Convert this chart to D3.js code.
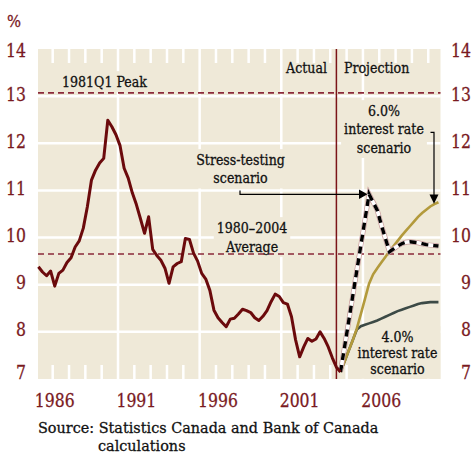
<!DOCTYPE html>
<html>
<head>
<meta charset="utf-8">
<script src="https://cdn.jsdelivr.net/npm/d3@7"></script>
<style>
  body { margin: 0; background: #fff; }
  text { font-family: "DejaVu Serif", serif; }
</style>
</head>
<body>
<div id="chart"></div>
<script>
// quarterly values, actual series starts 1985Q1
const startYear = 1985;
const actual = [
  9.38, 9.27, 9.19, 9.29, 8.97, 9.24, 9.31, 9.47, 9.57, 9.80,
  9.93, 10.20, 10.66, 11.22, 11.43, 11.58, 11.68, 12.49, 12.35, 12.18,
  11.95, 11.47, 11.26, 10.95, 10.70, 10.40, 10.09, 10.44, 9.75, 9.62,
  9.52, 9.35, 9.03, 9.38, 9.45, 9.49, 9.98, 9.96, 9.67, 9.50,
  9.24, 9.12, 8.88, 8.46, 8.30, 8.20, 8.11, 8.27, 8.29, 8.38,
  8.48, 8.45, 8.41, 8.30, 8.24, 8.33, 8.45, 8.64, 8.80, 8.75,
  8.62, 8.59, 8.32, 7.83, 7.47, 7.68, 7.86, 7.80, 7.85, 8.00,
  7.86, 7.68, 7.45, 7.25, 7.15
];
// projections start at the last actual quarter (2003Q3)
const stressScenario = [
  7.15, 7.68, 8.22, 8.76, 9.30, 9.84, 10.38, 10.92, 10.75, 10.58,
  10.27, 9.98, 9.70, 9.76, 9.82, 9.87, 9.90, 9.91, 9.90, 9.89,
  9.87, 9.85, 9.84, 9.83, 9.82
];
const rate6Scenario = [
  7.15, 7.37, 7.60, 7.82, 8.07, 8.38, 8.70, 9.02, 9.22, 9.35,
  9.47, 9.59, 9.71, 9.82, 9.93, 10.04, 10.14, 10.24, 10.34, 10.44,
  10.52, 10.59, 10.66, 10.71, 10.75
];
const rate4Scenario = [
  7.15, 7.37, 7.60, 7.82, 8.05, 8.12, 8.15, 8.18, 8.21, 8.24,
  8.28, 8.32, 8.36, 8.40, 8.44, 8.47, 8.50, 8.53, 8.56, 8.59,
  8.61, 8.62, 8.63, 8.63, 8.63
];
const yTicks = [7, 8, 9, 10, 11, 12, 13, 14];
const xTickYears = [1986, 1991, 1996, 2001, 2006];
const gridYears = [1990, 1995, 2000, 2005];
const peak1981 = 13.07;
const average8004 = 9.65;
const projectionStart = 2003.375;

const width = 473, height = 455;
const bg = "#efe9d8";
const darkRed = "#6b0a0c";
const labelRed = "#7a1a1f";
const refRed = "#8b2a3a";
const squeeze = 0.87;

const x = d3.scaleLinear().domain([1985.1, 2009.75]).range([38, 440.5]);
const y = d3.scaleLinear().domain([7, 14]).range([379, 49]);

const svg = d3.select("#chart").append("svg")
  .attr("width", width)
  .attr("height", height);

const quarterTime = i => startYear + i / 4 + 0.125;
const actualPts = actual.map((v, i) => ({ t: quarterTime(i), v: v }));
const projPts = arr => arr.map((v, k) => ({ t: quarterTime(actual.length - 1 + k), v: v }));

const gBg = svg.append("g");
const gGrid = svg.append("g");
const gBoxes = svg.append("g");
const gRef = svg.append("g");
const gData = svg.append("g");
const gText = svg.append("g");

// plot background
gBg.append("rect")
  .attr("x", x.range()[0]).attr("y", y(14))
  .attr("width", x.range()[1] - x.range()[0])
  .attr("height", y(7) - y(14))
  .attr("fill", bg);

// white horizontal grid
gGrid.selectAll("hgrid")
  .data(yTicks.filter(d => d > 7 && d < 14))
  .join("line")
  .attr("x1", x.range()[0]).attr("x2", x.range()[1])
  .attr("y1", d => y(d)).attr("y2", d => y(d))
  .attr("stroke", "#fff").attr("stroke-width", 2.5);

gGrid.selectAll("vgrid")
  .data(gridYears)
  .join("line")
  .attr("x1", d => x(d)).attr("x2", d => x(d))
  .attr("y1", y(14)).attr("y2", y(7))
  .attr("stroke", "#fff").attr("stroke-width", 2.5);

// small year ticks top and bottom
const tickYears = d3.range(1986, 2010).filter(d => gridYears.indexOf(d) < 0);
gGrid.selectAll("ttop")
  .data(tickYears)
  .join("line")
  .attr("x1", d => x(d)).attr("x2", d => x(d))
  .attr("y1", y(14)).attr("y2", y(14) + 14)
  .attr("stroke", "#fff").attr("stroke-width", 2.5);
gGrid.selectAll("tbot")
  .data(tickYears)
  .join("line")
  .attr("x1", d => x(d)).attr("x2", d => x(d))
  .attr("y1", y(7) - 14).attr("y2", y(7))
  .attr("stroke", "#fff").attr("stroke-width", 2.5);

function addText(parent, str, tx, ty, anchor, size, color, sx = squeeze) {
  return parent.append("text")
    .attr("transform", `translate(${tx},${ty}) scale(${sx},1)`)
    .attr("text-anchor", anchor)
    .style("font-size", size + "px")
    .attr("fill", color)
    .attr("stroke", color).attr("stroke-width", 0.3)
    .text(str);
}

function textBlock(lines, cx, y0, lh, anchor = "middle", size = 14.5) {
  const g = gText.append("g");
  lines.forEach((s, i) => addText(g, s, cx, y0 + i * lh, anchor, size, "#111"));
  // knock the grid out behind the label
  const b = g.node().getBBox();
  gBoxes.append("rect")
    .attr("x", b.x - 3).attr("y", b.y - 2)
    .attr("width", b.width + 6).attr("height", b.height + 4)
    .attr("fill", bg);
  return g;
}

// reference lines
gRef.selectAll("refs")
  .data([peak1981, average8004])
  .join("line")
  .attr("x1", x.range()[0]).attr("x2", x.range()[1])
  .attr("y1", d => y(d)).attr("y2", d => y(d))
  .attr("stroke", refRed).attr("stroke-width", 1.6)
  .attr("stroke-dasharray", "6,4");

gRef.append("line")
  .attr("x1", x(projectionStart)).attr("x2", x(projectionStart))
  .attr("y1", y(14)).attr("y2", y(7))
  .attr("stroke", "#7b1418").attr("stroke-width", 1.5);

const line = d3.line().x(d => x(d.t)).y(d => y(d.v));

gData.append("path")
  .attr("d", line(projPts(rate4Scenario)))
  .attr("fill", "none").attr("stroke", "#3c4a46").attr("stroke-width", 2.6);
gData.append("path")
  .attr("d", line(projPts(rate6Scenario)))
  .attr("fill", "none").attr("stroke", "#b39a3c").attr("stroke-width", 2.6);

const stressPath = line(projPts(stressScenario));
gData.append("path").attr("d", stressPath)
  .attr("fill", "none").attr("stroke", "#c99a9a").attr("stroke-width", 5);
gData.append("path").attr("d", stressPath)
  .attr("fill", "none").attr("stroke", "#fff").attr("stroke-width", 3.6);
gData.append("path").attr("d", stressPath)
  .attr("fill", "none").attr("stroke", "#000").attr("stroke-width", 3.4)
  .attr("stroke-dasharray", "7,5");

gData.append("path")
  .attr("d", line(actualPts))
  .attr("fill", "none").attr("stroke", darkRed)
  .attr("stroke-width", 3).attr("stroke-linejoin", "round");

// annotations
textBlock(["1981Q1 Peak"], 62, 87, 0, "start");
addText(gText, "Actual", 327, 73, "end", 14.5, "#111");
addText(gText, "Projection", 344, 73, "start", 14.5, "#111");
textBlock(["Stress-testing", "scenario"], 240.5, 165, 18.3);
textBlock(["1980\u20132004", "Average"], 252, 233, 18.6);
textBlock(["6.0%", "interest rate", "scenario"], 384, 116, 18.4);
textBlock(["4.0%", "interest rate", "scenario"], 397.5, 342, 15.8);

// arrows
gText.append("path")
  .attr("d", "M240,190.5V194.3H360")
  .attr("fill", "none").attr("stroke", "#000").attr("stroke-width", 1.2);
gText.append("path")
  .attr("d", "M359,189.5L367.5,194.3L359,199.1Z").attr("fill", "#000");
gText.append("path")
  .attr("d", "M430.5,132.3H434V195")
  .attr("fill", "none").attr("stroke", "#000").attr("stroke-width", 1.2);
gText.append("path")
  .attr("d", "M429.5,194.5L434,203.8L438.5,194.5Z").attr("fill", "#000");

// axis labels
const labelY = v => Math.min(Math.max(y(v) - 2, 50.5), 372.5) + 6.6;
yTicks.forEach(v => {
  addText(gText, String(v), 26, labelY(v), "end", 18, labelRed);
  addText(gText, String(v), 471, labelY(v), "end", 18, labelRed);
});
addText(gText, "%", 7, 26.5, "start", 17, labelRed);
xTickYears.forEach(yr => {
  addText(gText, String(yr), x(yr) + 2, 406.5, "middle", 18, labelRed);
});

addText(gText, "Source: Statistics Canada and Bank of Canada", 38, 433, "start", 15.5, "#111", 0.93);
addText(gText, "calculations", 98, 451, "start", 15.5, "#111", 0.93);
</script>
</body>
</html>
